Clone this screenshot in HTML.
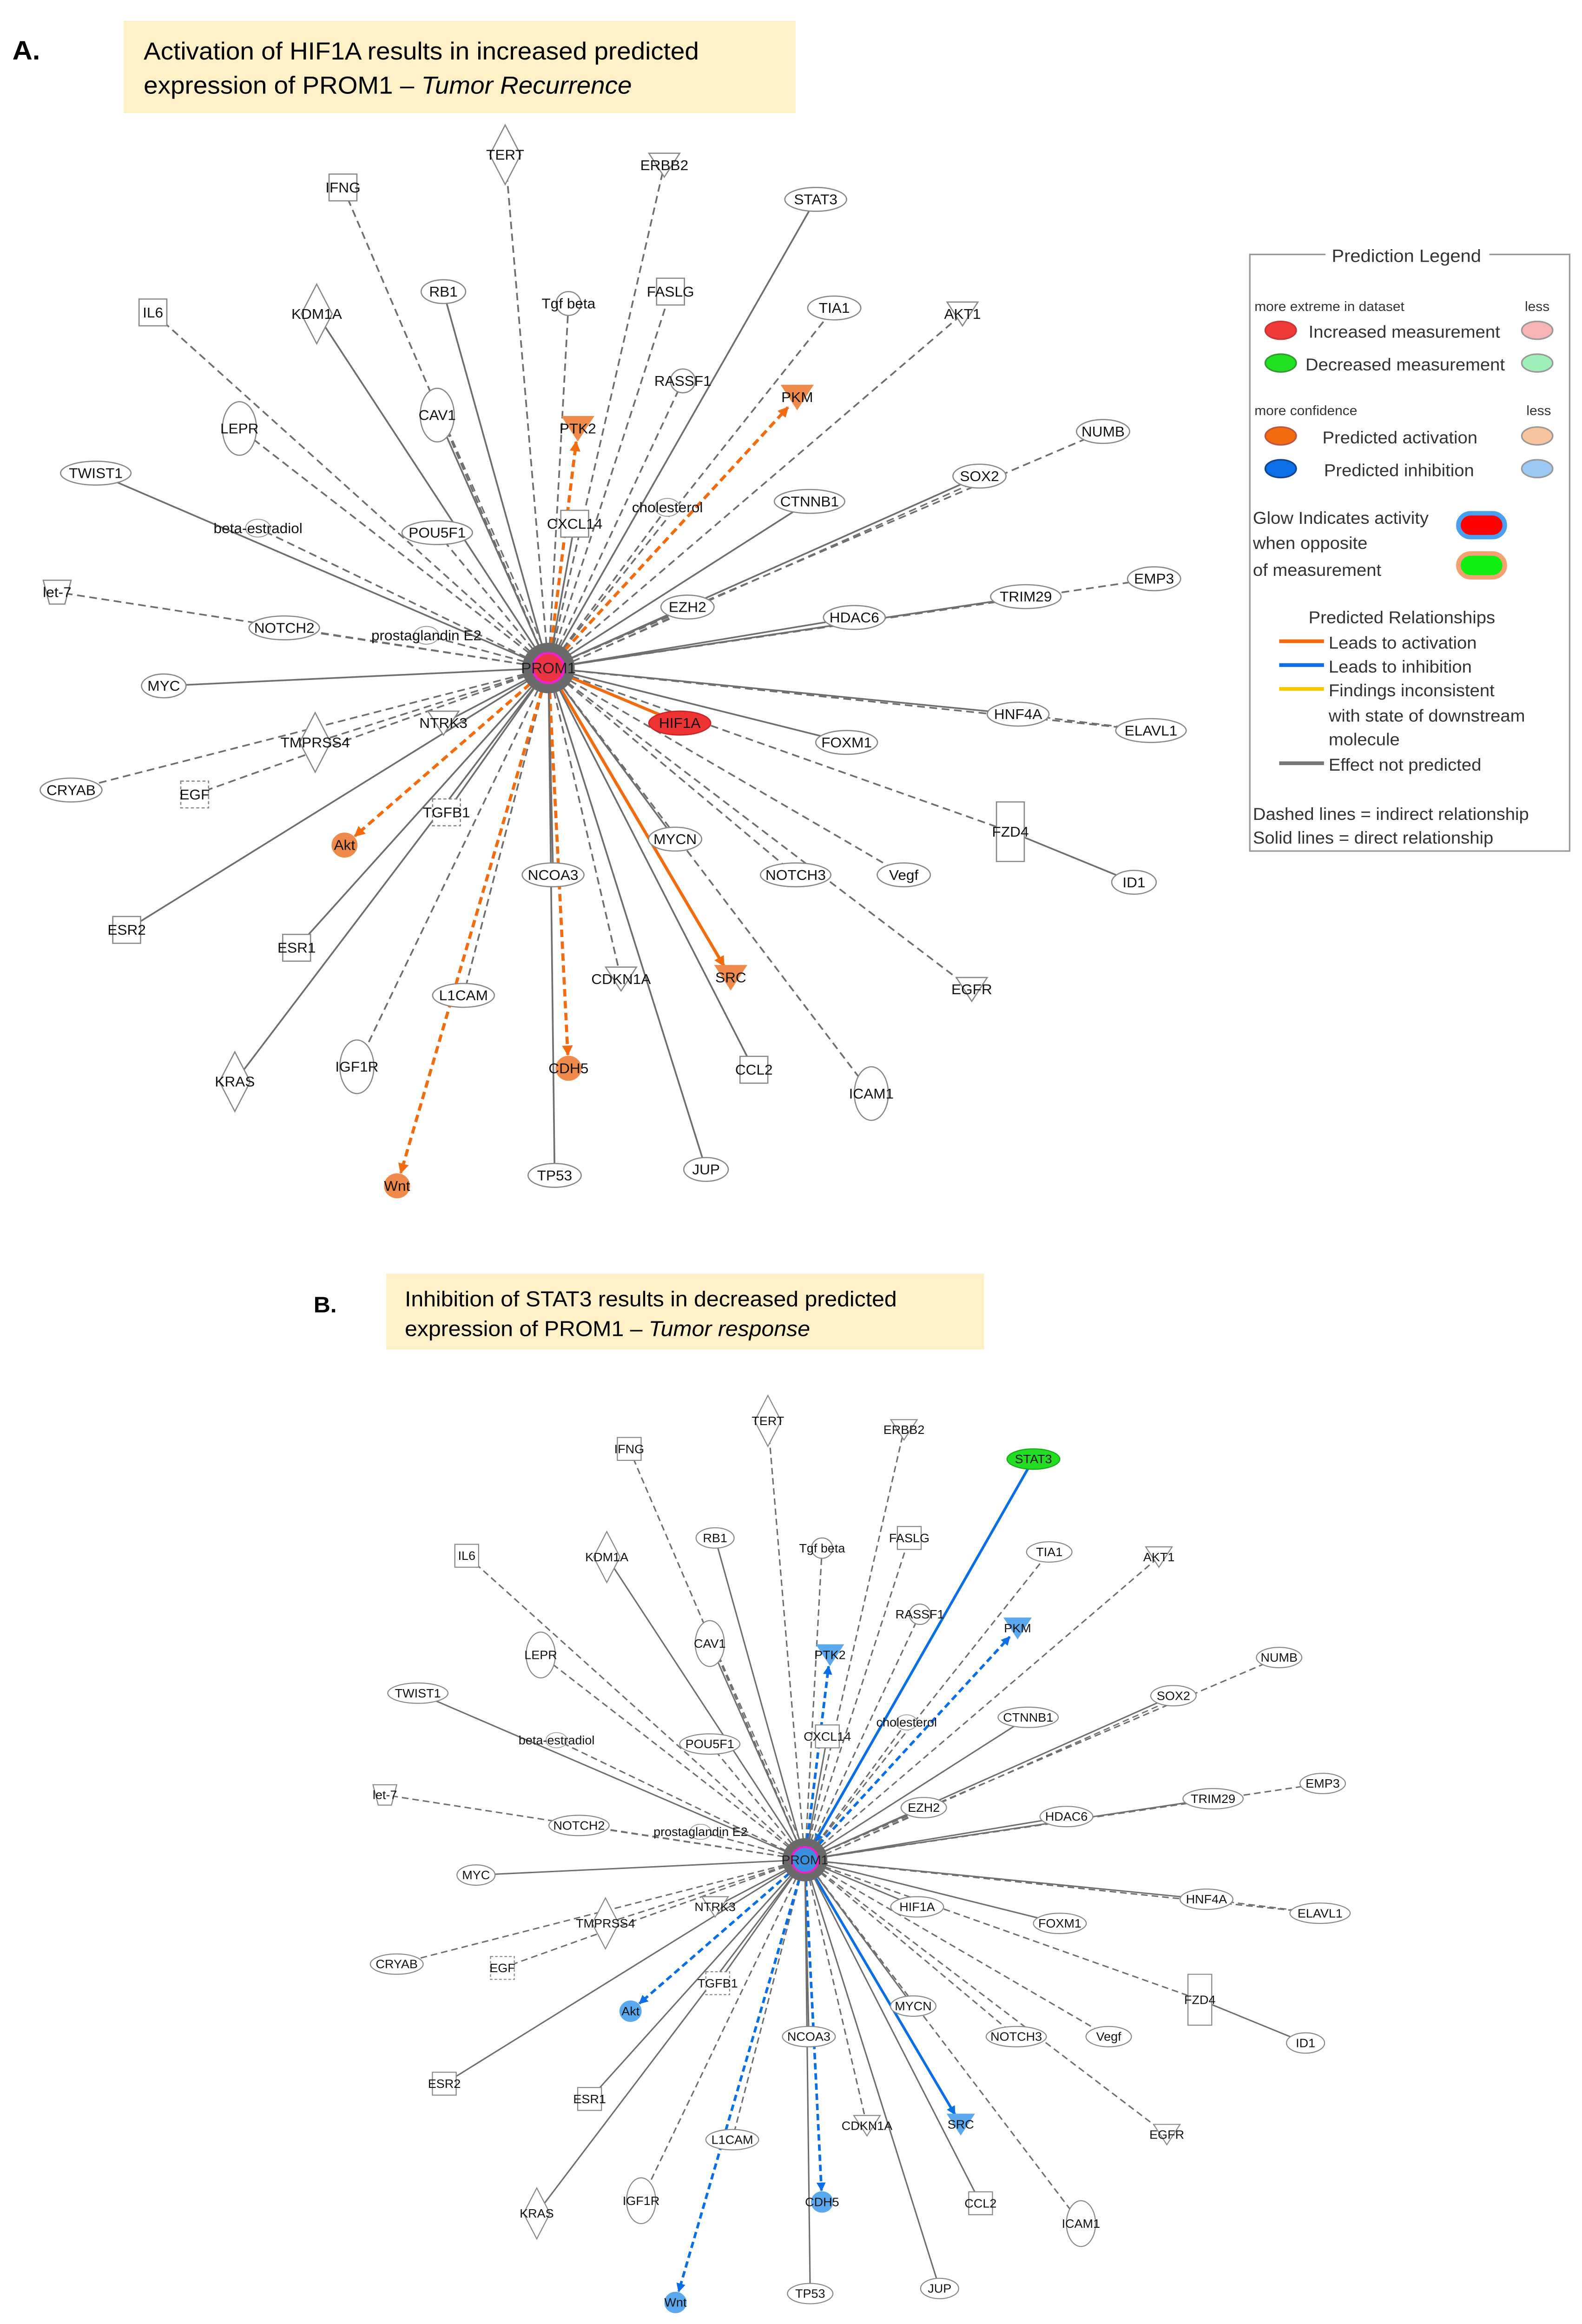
<!DOCTYPE html>
<html><head><meta charset="utf-8"><style>
html,body{margin:0;padding:0;background:#fff;width:100%;height:100%;overflow:hidden}
svg{display:block;position:absolute;left:0;top:0;width:100vw;height:100vh}
text{font-family:"Liberation Sans",sans-serif}
</style></head><body>
<svg id="s" xmlns="http://www.w3.org/2000/svg" viewBox="0 0 1024 1562" preserveAspectRatio="none">
<defs>
<marker id="mo" viewBox="0 0 10 10" refX="9" refY="5" markerWidth="7" markerHeight="7" markerUnits="userSpaceOnUse" orient="auto"><path d="M0,0L10,5L0,10z" fill="#f26b0f"/></marker>
<marker id="mb" viewBox="0 0 10 10" refX="9" refY="5" markerWidth="7" markerHeight="7" markerUnits="userSpaceOnUse" orient="auto"><path d="M0,0L10,5L0,10z" fill="#0a6ee6"/></marker>
</defs>
<rect width="1024" height="1562" fill="#fff"/>
<text x="8" y="40" font-size="18" font-weight="bold">A.</text>
<rect x="80" y="14" width="435" height="62" fill="#fdf0c6"/>
<text x="93" y="40" font-size="16.5">Activation of HIF1A results in increased predicted</text>
<text x="93" y="63" font-size="16.5">expression of PROM1 – <tspan font-style="italic">Tumor Recurrence</tspan></text>
<text x="203" y="882" font-size="15" font-weight="bold">B.</text>
<rect x="250" y="856" width="387" height="51" fill="#fdf0c6"/>
<text x="262" y="878" font-size="14.5">Inhibition of STAT3 results in decreased predicted</text>
<text x="262" y="898" font-size="14.5">expression of PROM1 – <tspan font-style="italic">Tumor response</tspan></text>
<g id="legend" font-size="11.5" fill="#333">
<rect x="809" y="171" width="207" height="401" fill="#fff" stroke="#999" stroke-width="1"/>
<rect x="858" y="164" width="106" height="14" fill="#fff"/>
<text x="862" y="176" font-size="12">Prediction Legend</text>
<text x="812" y="209" font-size="9">more extreme in dataset</text><text x="987" y="209" font-size="9">less</text>
<ellipse cx="829" cy="222" rx="10" ry="6" fill="#f03a3a" stroke="#c33"/><text x="847" y="227">Increased measurement</text><ellipse cx="995" cy="222" rx="10" ry="6" fill="#f6b4b4" stroke="#999"/>
<ellipse cx="829" cy="244" rx="10" ry="6" fill="#22e022" stroke="#393"/><text x="845" y="249">Decreased measurement</text><ellipse cx="995" cy="244" rx="10" ry="6" fill="#9ef0b8" stroke="#999"/>
<text x="812" y="279" font-size="9">more confidence</text><text x="988" y="279" font-size="9">less</text>
<ellipse cx="829" cy="293" rx="10" ry="6" fill="#f26b0f" stroke="#b54"/><text x="856" y="298">Predicted activation</text><ellipse cx="995" cy="293" rx="10" ry="6" fill="#f8c49e" stroke="#999"/>
<ellipse cx="829" cy="315" rx="10" ry="6" fill="#0a6ee6" stroke="#148"/><text x="857" y="320">Predicted inhibition</text><ellipse cx="995" cy="315" rx="10" ry="6" fill="#9cc8f4" stroke="#999"/>
<text x="811" y="352">Glow Indicates activity</text><text x="811" y="369">when opposite</text><text x="811" y="387">of measurement</text>
<rect x="944" y="345" width="30" height="16" rx="8" fill="#f00" stroke="#4aa0f0" stroke-width="3"/>
<rect x="944" y="372" width="30" height="16" rx="8" fill="#1e1" stroke="#f4a070" stroke-width="3"/>
<text x="847" y="419">Predicted Relationships</text>
<line x1="828" y1="431" x2="857" y2="431" stroke="#f26b0f" stroke-width="2.5"/><text x="860" y="436">Leads to activation</text>
<line x1="828" y1="447" x2="857" y2="447" stroke="#0a6ee6" stroke-width="2.5"/><text x="860" y="452">Leads to inhibition</text>
<line x1="828" y1="463" x2="857" y2="463" stroke="#f5c800" stroke-width="2.5"/><text x="860" y="468">Findings inconsistent</text>
<text x="860" y="485">with state of downstream</text><text x="860" y="501">molecule</text>
<line x1="828" y1="513" x2="857" y2="513" stroke="#777" stroke-width="2.5"/><text x="860" y="518">Effect not predicted</text>
<text x="811" y="551">Dashed lines = indirect relationship</text>
<text x="811" y="567">Solid lines = direct relationship</text>
</g>
<g id="A"></g>
<g id="B" transform="translate(521,1250) scale(0.855) translate(-355,-449)"></g>
</svg>
<script>
var C=[355,449];
var N=[
["TERT",327,104,"dia","d"],["IFNG",222,126,"rect","d"],["ERBB2",430,111,"tri","d"],["STAT3",528,134,"ell","s","stat"],
["RB1",287,196,"ell","s"],["Tgf beta",368,204,"circ","d"],["FASLG",434,196,"rect","d"],["TIA1",540,207,"ell","d"],
["AKT1",623,211,"tri","d"],["IL6",99,210,"rect","d"],["KDM1A",205,211,"dia","s"],["RASSF1",442,256,"circ","d"],
["PKM",516,267,"tri","d","act"],["PTK2",374,288,"tri","d","act"],["CAV1",283,279,"tall","b"],["LEPR",155,288,"tall","d"],
["NUMB",714,290,"ell","d"],["TWIST1",62,318,"ell","s"],["SOX2",634,320,"ell","b"],["beta-estradiol",167,355,"txt","d"],
["POU5F1",283,358,"ell","d"],["CXCL14",372,352,"rect","s"],["cholesterol",432,341,"txt","d"],["CTNNB1",524,337,"ell","s"],
["EMP3",747,389,"ell","d"],["let-7",37,398,"trap","d"],["TRIM29",664,401,"ell","s"],["EZH2",445,408,"ell","b"],
["HDAC6",553,415,"ell","s"],["NOTCH2",184,422,"ell","d"],["prostaglandin E2",276,427,"txt","d"],["MYC",106,461,"ell","s"],
["HNF4A",659,480,"ell","s"],["ELAVL1",745,491,"ell","d"],["TMPRSS4",204,499,"dia","d"],["NTRK3",287,486,"tri","s"],
["HIF1A",440,486,"ell","s","hif"],["FOXM1",548,499,"ell","s"],["CRYAB",46,531,"ell","d"],["EGF",126,534,"drect","d"],
["TGFB1",289,546,"drect","s"],["FZD4",654,559,"trect","d"],["ID1",734,593,"ell","n"],["Akt",223,568,"circ","d","act"],
["NCOA3",358,588,"ell","s"],["MYCN",437,564,"ell","s"],["NOTCH3",515,588,"ell","d"],["Vegf",585,588,"ell","d"],
["ESR2",82,625,"rect","s"],["ESR1",192,637,"rect","s"],["L1CAM",300,669,"ell","d"],["CDKN1A",402,658,"tri","d"],
["SRC",473,657,"tri","s","act"],["EGFR",629,665,"tri","d"],["KRAS",152,727,"dia","s"],["IGF1R",231,717,"tall","d"],
["CDH5",368,718,"circ","d","act"],["CCL2",488,719,"rect","s"],["ICAM1",564,735,"tall","d"],["TP53",359,790,"ell","s"],
["JUP",457,786,"ell","s"],["Wnt",257,797,"circ","d","act"]];
var NS="http://www.w3.org/2000/svg";
function el(p,t,a,txt){var e=document.createElementNS(NS,t);for(var k in a)e.setAttribute(k,a[k]);if(txt)e.textContent=txt;p.appendChild(e);return e;}
function draw(g,mode){
 var ac=mode=="A"?"#f26b0f":"#0a6ee6", mk=mode=="A"?"url(#mo)":"url(#mb)";
 var gl=el(g,"g",{}),gn=el(g,"g",{});
 N.forEach(function(n){
  var x=n[1],y=n[2],e=n[4],sp=n[5];
  if(e=="n")return;
  var col="#6e6e6e",da=(e=="d")?"5,3":"",w=1.1,marker="",x1=C[0],y1=C[1],x2=x,y2=y,dx,dy,L;
  if(sp=="act"){col=ac;w=2;marker=mk;
    dx=x-C[0];dy=y-C[1];L=Math.sqrt(dx*dx+dy*dy);x2=x-dx/L*9;y2=y-dy/L*9;}
  if(sp=="hif"&&mode=="A"){col=ac;w=2;}
  if(sp=="stat"&&mode=="B"){col=ac;w=2;marker=mk;dx=C[0]-x;dy=C[1]-y;L=Math.sqrt(dx*dx+dy*dy);x1=x;y1=y;x2=C[0]-dx/L*16;y2=C[1]-dy/L*16;}
  var a={x1:x1,y1:y1,x2:x2,y2:y2,stroke:col,"stroke-width":w};
  if(da)a["stroke-dasharray"]=da; if(marker)a["marker-end"]=marker;
  el(gl,"line",a);
  if(e=="b"){dx=x-C[0];dy=y-C[1];L=Math.sqrt(dx*dx+dy*dy);var ox=-dy/L*2.5,oy=dx/L*2.5;
   el(gl,"line",{x1:C[0]+ox,y1:C[1]+oy,x2:x+ox,y2:y+oy,stroke:"#6e6e6e","stroke-width":1,"stroke-dasharray":"5,3"});}
 });
 el(gl,"line",{x1:654,y1:559,x2:734,y2:593,stroke:"#6e6e6e","stroke-width":1.1});
 el(gl,"line",{x1:659,y1:480,x2:745,y2:491,stroke:"#6e6e6e","stroke-width":1,"stroke-dasharray":"5,3"});
 N.forEach(function(n){
  var t=n[0],x=n[1],y=n[2],s=n[3],sp=n[5],fill="#fff",st="#888";
  var fs=9.5,tw=t.length*5.6;
  if(sp=="act"){fill=mode=="A"?"#f08a4a":"#5aa8ee";st=fill;}
  if(sp=="hif"&&mode=="A"){fill="#ee3333";st="#c22";}
  if(sp=="stat"&&mode=="B"){fill="#22dd22";st="#1a1";}
  if(s=="ell")el(gn,"ellipse",{cx:x,cy:y,rx:tw/2+6,ry:8,fill:fill,stroke:st,"stroke-width":0.8});
  else if(s=="tall")el(gn,"ellipse",{cx:x,cy:y,rx:11,ry:18,fill:fill,stroke:st,"stroke-width":0.8});
  else if(s=="circ")el(gn,"circle",{cx:x,cy:y,r:8,fill:fill,stroke:st,"stroke-width":0.8});
  else if(s=="rect")el(gn,"rect",{x:x-9,y:y-9,width:18,height:18,fill:fill,stroke:st,"stroke-width":0.8});
  else if(s=="drect")el(gn,"rect",{x:x-9,y:y-9,width:18,height:18,fill:fill,stroke:st,"stroke-width":0.8,"stroke-dasharray":"2,1.5"});
  else if(s=="trect")el(gn,"rect",{x:x-9,y:y-20,width:18,height:40,fill:fill,stroke:st,"stroke-width":0.8});
  else if(s=="dia")el(gn,"polygon",{points:(x)+","+(y-20)+" "+(x+10)+","+y+" "+x+","+(y+20)+" "+(x-10)+","+y,fill:fill,stroke:st,"stroke-width":0.8});
  else if(s=="tri")el(gn,"polygon",{points:(x-10)+","+(y-8)+" "+(x+10)+","+(y-8)+" "+x+","+(y+8),fill:fill,stroke:st,"stroke-width":0.8});
  else if(s=="trap")el(gn,"polygon",{points:(x-9)+","+(y-8)+" "+(x+9)+","+(y-8)+" "+(x+5)+","+(y+8)+" "+(x-5)+","+(y+8),fill:fill,stroke:st,"stroke-width":0.8});
  else if(s=="txt")el(gn,"ellipse",{cx:x,cy:y,rx:8,ry:6,fill:"#fff",stroke:"#999","stroke-width":0.6});
  el(gn,"text",{x:x,y:y+3.3,"font-size":fs,"text-anchor":"middle",fill:"#111"},t);
 });
 el(gn,"circle",{cx:C[0],cy:C[1],r:17,fill:"#6a6a6a"});
 el(gn,"circle",{cx:C[0],cy:C[1],r:10,fill:mode=="A"?"#ee3344":"#3a90e0",stroke:"#ee22cc","stroke-width":1.6});
 el(gn,"text",{x:C[0],y:C[1]+3.5,"font-size":10,"text-anchor":"middle",fill:"#222"},"PROM1");
}
draw(document.getElementById("A"),"A");
draw(document.getElementById("B"),"B");
</script>
</body></html>
